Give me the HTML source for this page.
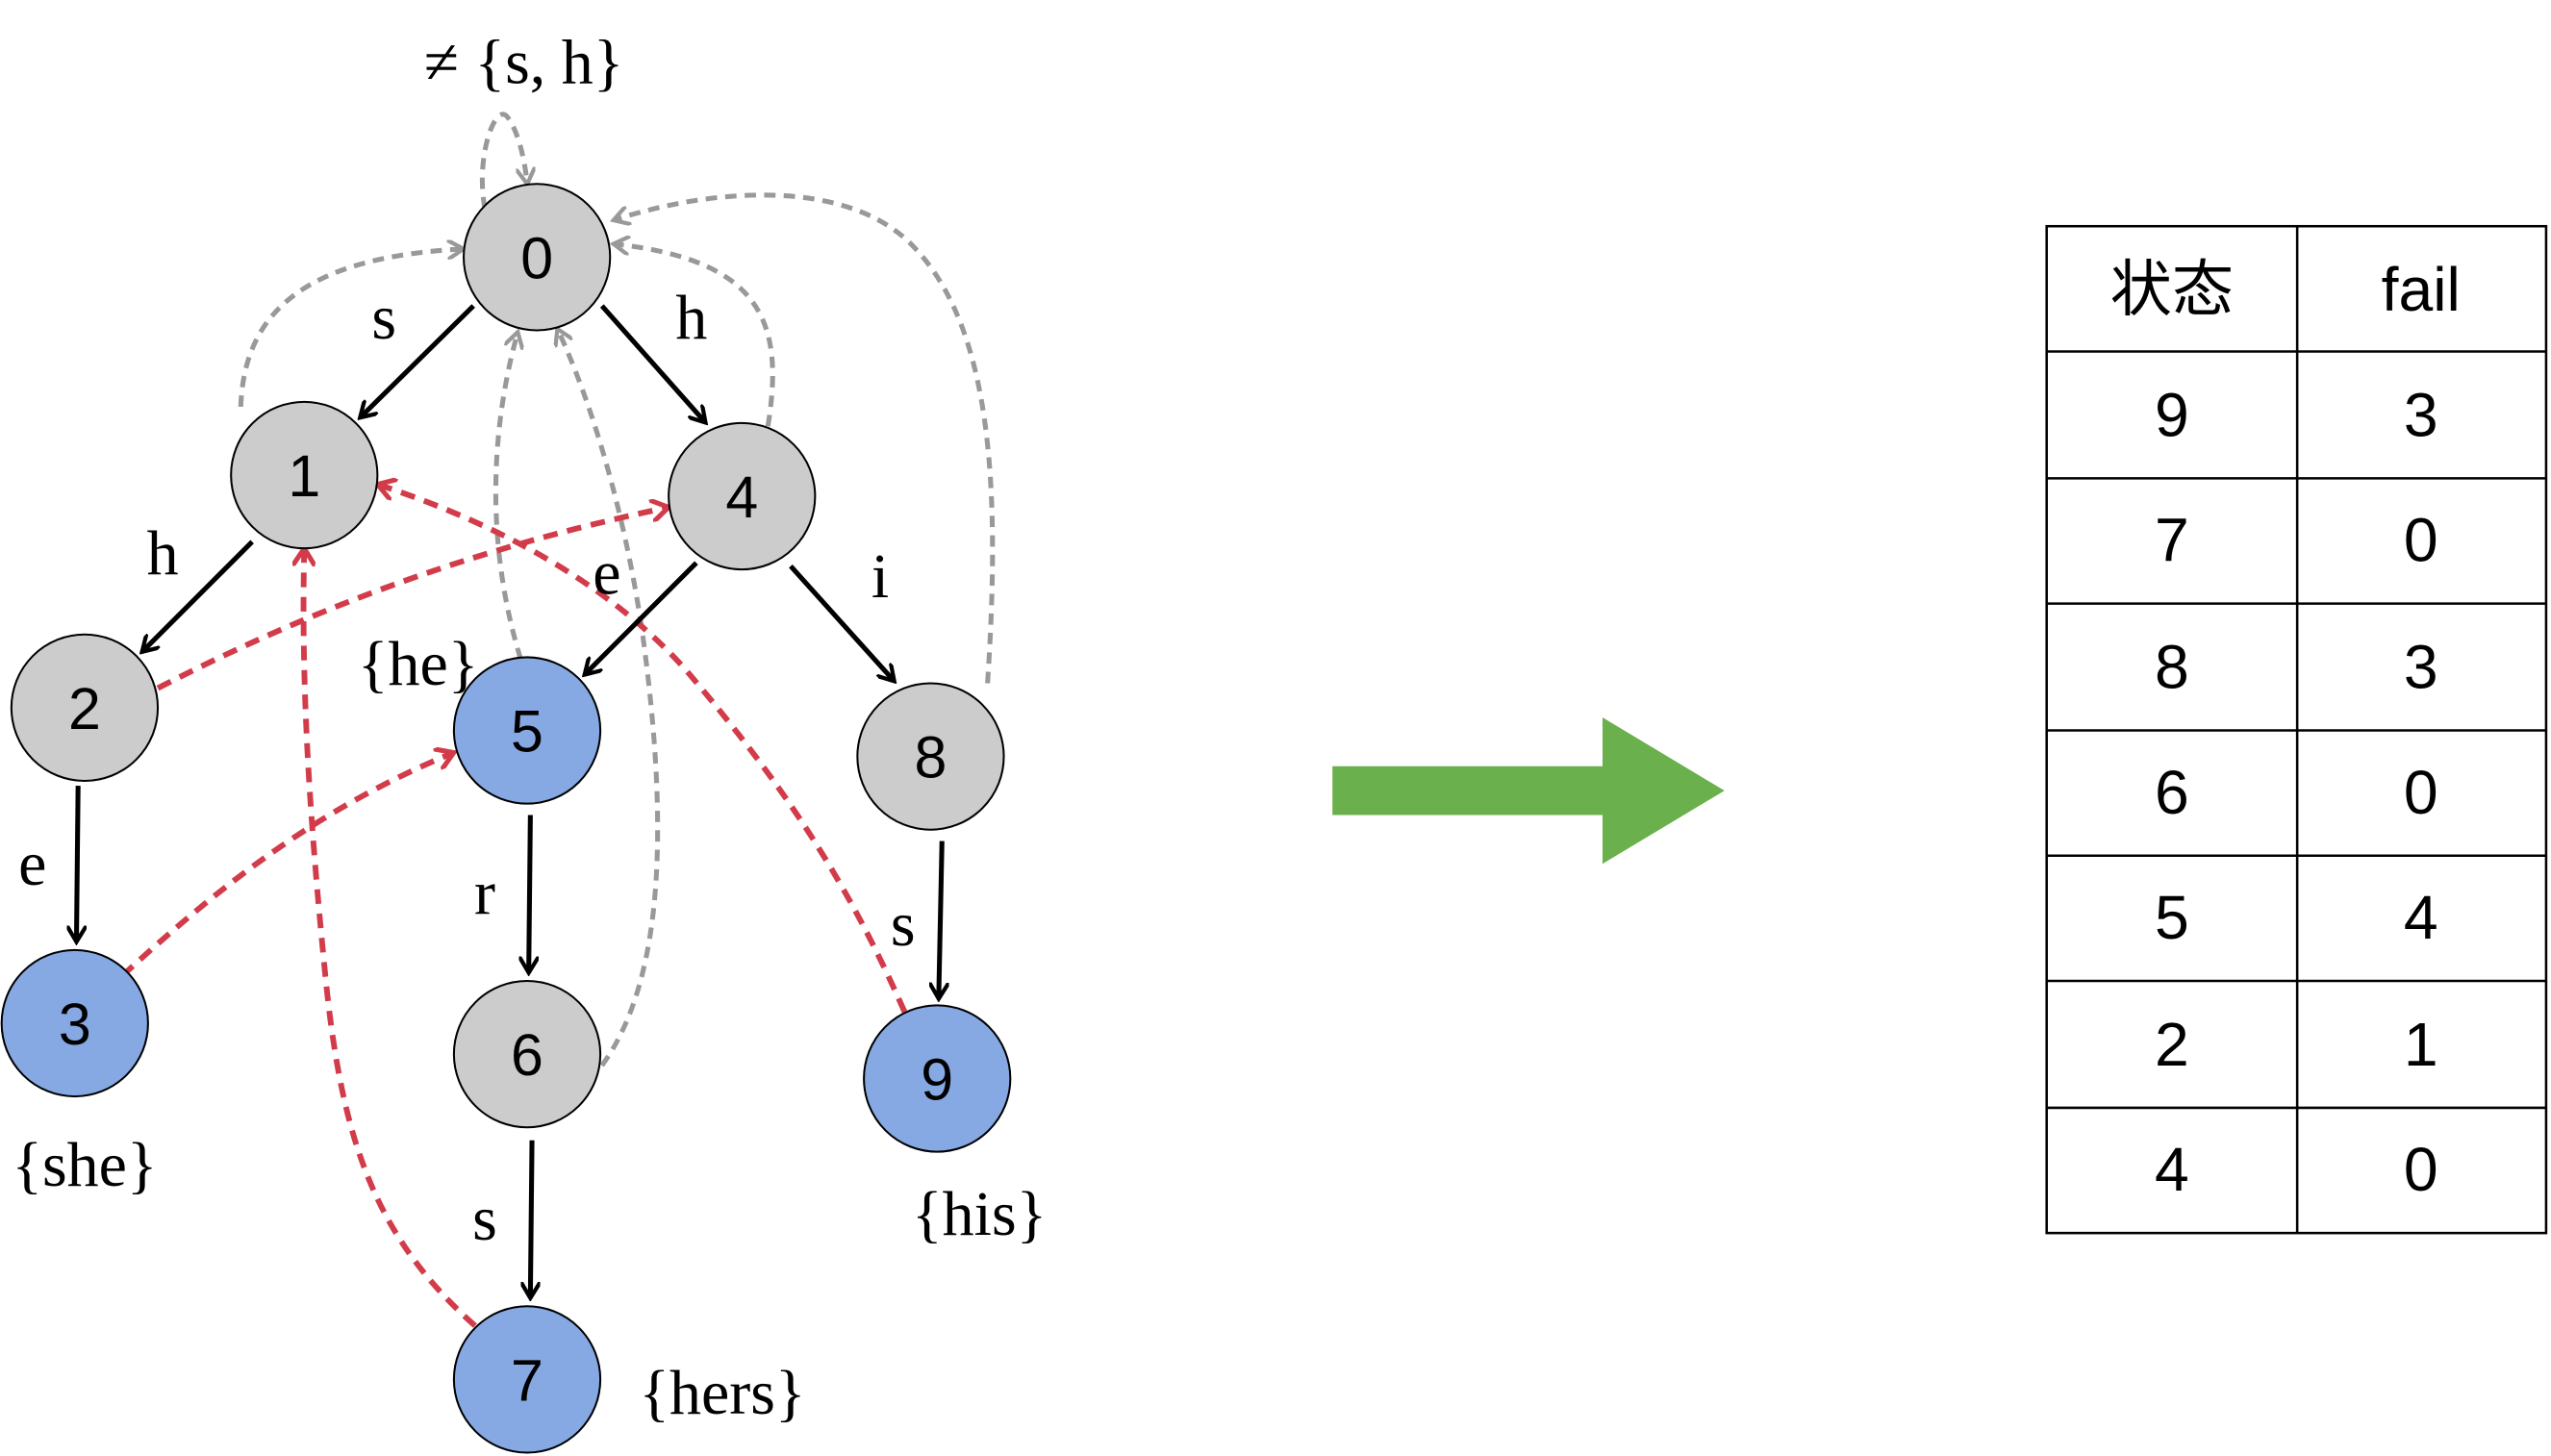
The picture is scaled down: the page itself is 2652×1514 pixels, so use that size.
<!DOCTYPE html>
<html><head><meta charset="utf-8"><style>
html,body{margin:0;padding:0;background:#fff;width:2652px;height:1514px;overflow:hidden}
svg{display:block}
.lab{font-family:"Liberation Serif",serif;font-size:39px;fill:#000}
.num{font-family:"Liberation Sans",sans-serif;font-size:36px;fill:#000;text-anchor:middle}
.tb{font-family:"Liberation Sans","Noto Sans CJK SC",sans-serif;font-size:38px;fill:#000;text-anchor:middle}
</style></head><body>
<svg width="2652" height="1514" viewBox="0 0 1568 895" xmlns="http://www.w3.org/2000/svg">
<defs>
<marker id="ab" markerWidth="12" markerHeight="12" refX="9" refY="6" orient="auto" markerUnits="userSpaceOnUse"><path d="M0,0 L10,6 L0,12" fill="none" stroke="#000" stroke-width="2.5"/></marker>
<marker id="ag" markerWidth="12" markerHeight="12" refX="9" refY="6" orient="auto" markerUnits="userSpaceOnUse"><path d="M0,0 L10,6 L0,12" fill="none" stroke="#999" stroke-width="2.5"/></marker>
<marker id="ar" markerWidth="14" markerHeight="14" refX="10" refY="7" orient="auto" markerUnits="userSpaceOnUse"><path d="M0,0 L11,7 L0,14" fill="none" stroke="#d23c4a" stroke-width="3"/></marker>
</defs>
<g fill="none" stroke="#999" stroke-width="3" stroke-dasharray="7,5">
<path d="M298,128 C292,95 305,62 312,72 C318,80 322,95 324,112" marker-end="url(#ag)"/>
<path d="M148,250 C150,190 190,158 284,153" marker-end="url(#ag)"/>
<path d="M472,262 C482,200 470,160 378,150" marker-end="url(#ag)"/>
<path d="M607,420 C615,300 610,200 560,150 C520,110 440,115 378,135" marker-end="url(#ag)"/>
<path d="M320,405 C300,340 300,270 318,205" marker-end="url(#ag)"/>
<path d="M370,655 C410,600 410,500 395,390 C385,320 365,250 343,203" marker-end="url(#ag)"/>
</g>
<g fill="none" stroke="#d23c4a" stroke-width="3.5" stroke-dasharray="9,6">
<path d="M97,423 C200,370 300,335 410,312" marker-end="url(#ar)"/>
<path d="M75,600 C140,540 200,495 278,463" marker-end="url(#ar)"/>
<path d="M292,815 C230,760 210,700 200,600 C190,500 185,420 187,338" marker-end="url(#ar)"/>
<path d="M556,622 C520,540 480,480 420,410 C370,355 300,320 233,298" marker-end="url(#ar)"/>
</g>
<g stroke="#000" stroke-width="3" fill="none">
<path d="M291,188 L222,256" marker-end="url(#ab)"/>
<path d="M370,188 L433,259" marker-end="url(#ab)"/>
<path d="M155,333 L88,400" marker-end="url(#ab)"/>
<path d="M428,346 L360,414" marker-end="url(#ab)"/>
<path d="M486,348 L549,418" marker-end="url(#ab)"/>
<path d="M48,483 L47,578" marker-end="url(#ab)"/>
<path d="M326,501 L325,597" marker-end="url(#ab)"/>
<path d="M579,517 L577,613" marker-end="url(#ab)"/>
<path d="M327,701 L326,797" marker-end="url(#ab)"/>
</g>
<g stroke="#000" stroke-width="1.2">
<circle cx="330" cy="158" r="45" fill="#cccccc"/>
<circle cx="187" cy="292" r="45" fill="#cccccc"/>
<circle cx="456" cy="305" r="45" fill="#cccccc"/>
<circle cx="52" cy="435" r="45" fill="#cccccc"/>
<circle cx="324" cy="449" r="45" fill="#86a8e3"/>
<circle cx="572" cy="465" r="45" fill="#cccccc"/>
<circle cx="46" cy="629" r="45" fill="#86a8e3"/>
<circle cx="324" cy="648" r="45" fill="#cccccc"/>
<circle cx="576" cy="663" r="45" fill="#86a8e3"/>
<circle cx="324" cy="848" r="45" fill="#86a8e3"/>
</g>
<g class="num">
<text x="330" y="171">0</text><text x="187" y="305">1</text><text x="456" y="318">4</text>
<text x="52" y="448">2</text><text x="324" y="462">5</text><text x="572" y="478">8</text>
<text x="46" y="642">3</text><text x="324" y="661">6</text><text x="576" y="676">9</text>
<text x="324" y="861">7</text>
</g>
<g class="lab" text-anchor="middle">
<text x="236" y="208">s</text><text x="425" y="208">h</text><text x="100" y="353">h</text>
<text x="373" y="365">e</text><text x="541" y="367">i</text><text x="20" y="544">e</text>
<text x="298" y="562">r</text><text x="555" y="581">s</text><text x="298" y="762">s</text>
<text x="257" y="421">{he}</text><text x="52" y="729">{she}</text><text x="602" y="759">{his}</text>
<text x="444" y="869">{hers}</text><text x="322" y="51">≠ {s, h}</text>
</g>
<polygon points="819,471 985,471 985,441 1060,486 985,531 985,501 819,501" fill="#6ab04c"/>
<g stroke="#000" stroke-width="1.5" fill="none">
<rect x="1258" y="139" width="307" height="619"/>
<line x1="1412" y1="139" x2="1412" y2="758"/>
<line x1="1258" y1="216" x2="1565" y2="216"/>
<line x1="1258" y1="294" x2="1565" y2="294"/>
<line x1="1258" y1="371" x2="1565" y2="371"/>
<line x1="1258" y1="449" x2="1565" y2="449"/>
<line x1="1258" y1="526" x2="1565" y2="526"/>
<line x1="1258" y1="603" x2="1565" y2="603"/>
<line x1="1258" y1="681" x2="1565" y2="681"/>
</g>
<g class="tb">
<text x="1335" y="191">状态</text><text x="1488" y="191">fail</text>
<text x="1335" y="268">9</text><text x="1488" y="268">3</text>
<text x="1335" y="345">7</text><text x="1488" y="345">0</text>
<text x="1335" y="423">8</text><text x="1488" y="423">3</text>
<text x="1335" y="500">6</text><text x="1488" y="500">0</text>
<text x="1335" y="577">5</text><text x="1488" y="577">4</text>
<text x="1335" y="655">2</text><text x="1488" y="655">1</text>
<text x="1335" y="732">4</text><text x="1488" y="732">0</text>
</g>
</svg>
</body></html>
